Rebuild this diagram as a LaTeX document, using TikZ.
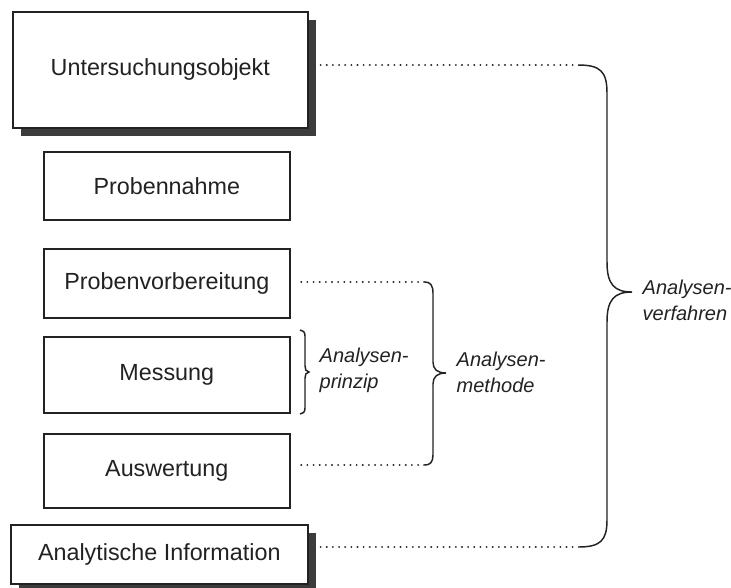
\documentclass[tikz,border=0pt]{standalone}
\usepackage{fontspec}
\setmainfont{Liberation Sans}
\usetikzlibrary{shadows}
\definecolor{shadowgray}{HTML}{3C3C3C}
\definecolor{ink}{HTML}{222222}
\tikzset{
  box/.style={draw=ink, line width=1.2pt, fill=white, anchor=north west, inner sep=0pt,
    minimum width=184.5pt, font=\fontsize{17.5}{20}\selectfont, text=ink},
  shadowbox/.style={box, drop shadow={shadow xshift=6pt, shadow yshift=-6pt, opacity=1, fill=shadowgray}},
  dots/.style={line width=1.6pt, ink, dash pattern=on 0.01pt off 4.6pt, line cap=round},
  bracestyle/.style={line width=1.1pt, ink},
  lbl/.style={font=\fontsize{15}{19.5}\selectfont\itshape, text=ink, align=left, anchor=west}
}
\begin{document}
\begin{tikzpicture}[x=0.75pt,y=-0.75pt]
\useasboundingbox (0,0) rectangle (731,587);
% boxes
\node[shadowbox, minimum width=221.25pt, minimum height=87pt] (obj) at (12,11) {Untersuchungsobjekt};
\node[box, minimum height=51pt] (pn) at (43,151) {Probennahme};
\node[box, minimum height=51.75pt] (pv) at (43,248) {Probenvorbereitung};
\node[box, minimum height=57pt] (me) at (43,336) {Messung};
\node[box, minimum height=55.5pt] (au) at (43,433) {Auswertung};
\node[shadowbox, minimum width=222.75pt, minimum height=44.25pt] (ai) at (10,524) {Analytische Information};
% dotted leaders
\coordinate (t1) at (578,65);
\coordinate (t2) at (578,547);
\coordinate (m1) at (425,282);
\coordinate (m2) at (425,465);
\draw[dots] ([xshift=9pt]obj.east |- t1) -- (t1);
\draw[dots] ([xshift=9pt]ai.east |- t2) -- (t2);
\draw[dots] ([xshift=8pt]pv.east |- m1) -- (m1);
\draw[dots] ([xshift=8pt]au.east |- m2) -- (m2);
% big brace
\draw[bracestyle] (t1) .. controls (600,65) and (607,71) .. (607,93) -- (607,262)
  .. controls (607,284) and (614,292) .. (632,292)
  .. controls (614,292) and (607,300) .. (607,322) -- (607,520)
  .. controls (607,541) and (600,547) .. (t2);
\node[lbl] (vf) at (638,300) {Analysen-\\verfahren};
% middle brace
\draw[bracestyle] (m1) .. controls (430,282) and (433,285) .. (433,293) -- (433,362)
  .. controls (433,369) and (437,373) .. (446,373)
  .. controls (437,373) and (433,377) .. (433,384) -- (433,455)
  .. controls (433,462) and (430,465) .. (m2);
\node[lbl] (mt) at (452,372) {Analysen-\\methode};
% small brace
\draw[bracestyle] (300,330) .. controls (303,330) and (305,332) .. (305,336) -- (305,366)
  .. controls (305,369) and (306,372) .. (309,372)
  .. controls (306,372) and (305,375) .. (305,378) -- (305,408)
  .. controls (305,412) and (303,414) .. (300,414);
\node[lbl] (pz) at (315,370) {Analysen-\\prinzip};
\end{tikzpicture}
\end{document}
